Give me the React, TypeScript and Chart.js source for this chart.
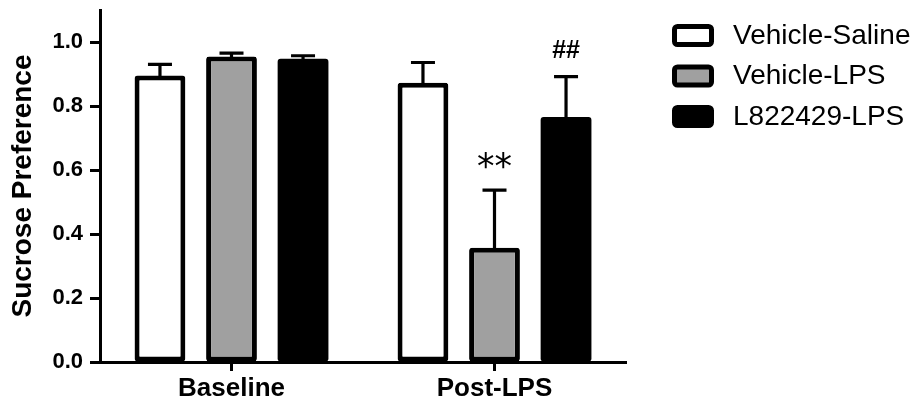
import React, { useEffect, useRef } from 'react';
import { Chart, registerables } from 'chart.js';

Chart.register(...registerables);

const categories = ['Baseline', 'Post-LPS'];
const seriesLabels = ['Vehicle-Saline', 'Vehicle-LPS', 'L822429-LPS'];
const vehicleSaline = [0.895, 0.873];
const vehicleLPS = [0.955, 0.357];
const l822429LPS = [0.948, 0.766];
const vehicleSalineSem = [0.035, 0.063];
const vehicleLPSSem = [0.01, 0.18];
const l822429LPSSem = [0.009, 0.126];
const vehicleSalineMarks = ['', ''];
const vehicleLPSMarks = ['', '**'];
const l822429LPSMarks = ['', '##'];
const yTicks = [0, 0.2, 0.4, 0.6, 0.8, 1.0];
const yMax = 1.1;
const fillColors = ['#ffffff', '#a0a0a0', '#000000'];
const borderWidths = [5, 5, 0];

const FONT = '"Liberation Sans", Arial, Helvetica, sans-serif';

const errorBarPlugin = {
  id: 'errorBars',
  afterDatasetsDraw(chart: any) {
    const ctx = chart.ctx;
    const y = chart.scales.y;
    chart.data.datasets.forEach((ds: any, di: number) => {
      const meta = chart.getDatasetMeta(di);
      meta.data.forEach((bar: any, i: number) => {
        const mean = ds.data[i];
        const sem = ds.sem[i];
        const top = y.getPixelForValue(mean + sem);
        const x = bar.x;
        ctx.save();
        ctx.strokeStyle = '#000';
        ctx.lineWidth = 3.2;
        ctx.beginPath();
        ctx.moveTo(x, bar.y + 2);
        ctx.lineTo(x, top);
        ctx.moveTo(x - 12, top);
        ctx.lineTo(x + 12, top);
        ctx.stroke();
        const mark = ds.marks[i];
        if (mark) {
          const isStar = mark.indexOf('*') >= 0;
          ctx.font = isStar ? '35px "DejaVu Sans", sans-serif' : 'bold 25px ' + FONT;
          ctx.fillStyle = '#000';
          ctx.textAlign = 'center';
          ctx.textBaseline = 'alphabetic';
          const m = ctx.measureText(mark);
          const targetBottom = top - (isStar ? 21 : 19);
          ctx.fillText(mark, x, targetBottom - m.actualBoundingBoxDescent);
        }
        ctx.restore();
      });
    });
  },
};

const legendPlugin = {
  id: 'sideLegend',
  afterDraw(chart: any) {
    const ctx = chart.ctx;
    const area = chart.chartArea;
    const left = area.right + 46;
    chart.data.datasets.forEach((ds: any, i: number) => {
      const rowTop = area.top + 14 + i * 40.5;
      ctx.save();
      ctx.lineWidth = 5;
      ctx.strokeStyle = '#000';
      ctx.fillStyle = ds.backgroundColor;
      ctx.beginPath();
      (ctx as any).roundRect(left + 2.5, rowTop + 2.5, 37, 18, 3);
      ctx.fill();
      ctx.stroke();
      ctx.font = '28px ' + FONT;
      ctx.fillStyle = '#000';
      ctx.textAlign = 'left';
      ctx.textBaseline = 'middle';
      ctx.fillText(ds.label, left + 61, rowTop + 12);
      ctx.restore();
    });
  },
};

export default function App() {
  const ref = useRef<HTMLCanvasElement | null>(null);
  useEffect(() => {
    document.body.style.margin = '0';
    const canvas = ref.current!;
    const series = [
      { data: vehicleSaline, sem: vehicleSalineSem, marks: vehicleSalineMarks },
      { data: vehicleLPS, sem: vehicleLPSSem, marks: vehicleLPSMarks },
      { data: l822429LPS, sem: l822429LPSSem, marks: l822429LPSMarks },
    ];
    const chart = new Chart(canvas, {
      type: 'bar',
      data: {
        labels: categories,
        datasets: series.map((s, i) => ({
          label: seriesLabels[i],
          data: s.data,
          sem: s.sem,
          marks: s.marks,
          backgroundColor: fillColors[i],
          borderColor: '#000',
          borderWidth: borderWidths[i],
          borderSkipped: false,
          borderRadius: 3,
          categoryPercentage: 0.816,
          barPercentage: 0.71,
        })) as any,
      },
      options: {
        responsive: false,
        animation: false,
        layout: { padding: { top: 10, right: 293, bottom: 0, left: 0 } },
        plugins: { legend: { display: false }, tooltip: { enabled: false } },
        scales: {
          x: {
            offset: true,
            grid: {
              offset: false,
              drawOnChartArea: false,
              tickLength: 9,
              tickWidth: 3,
              tickColor: '#000',
            },
            border: { color: '#000', width: 3 },
            ticks: {
              color: '#000',
              padding: 2,
              font: { family: FONT, size: 26, weight: 'bold' },
            },
            afterFit: (s: any) => {
              s.height = 41;
              s.paddingLeft = 0;
              s.paddingRight = 0;
            },
          },
          y: {
            min: 0,
            max: yMax,
            grid: {
              drawOnChartArea: false,
              tickLength: 10,
              tickWidth: 3,
              tickColor: '#000',
            },
            border: { color: '#000', width: 3 },
            afterBuildTicks: (s: any) => {
              s.ticks = yTicks.map((v) => ({ value: v }));
            },
            ticks: {
              color: '#000',
              padding: 7,
              font: { family: FONT, size: 22, weight: 'bold' },
              callback: (v: any) => Number(v).toFixed(1),
            },
            title: {
              display: true,
              text: 'Sucrose Preference',
              color: '#000',
              padding: { top: 6, bottom: 0 },
              font: { family: FONT, size: 28, weight: 'bold' },
            },
            afterFit: (s: any) => {
              s.width = 100;
              s.paddingTop = 0;
              s.paddingBottom = 0;
            },
          },
        },
      },
      plugins: [errorBarPlugin, legendPlugin],
    });
    return () => chart.destroy();
  }, []);
  return (
    <div style={{ position: 'absolute', left: 0, top: 0, width: 919, height: 403, background: '#fff' }}>
      <canvas ref={ref} width={919} height={403} style={{ display: 'block' }} />
    </div>
  );
}
